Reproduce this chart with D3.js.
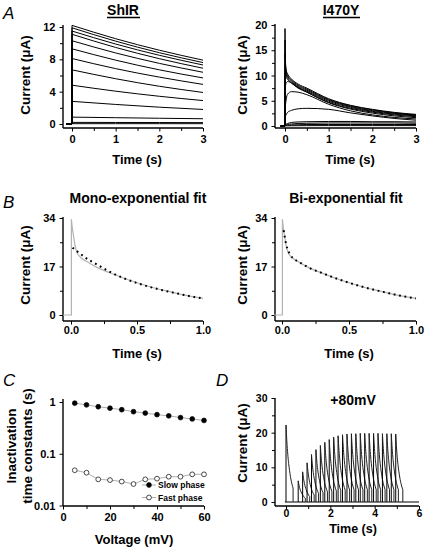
<!DOCTYPE html>
<html><head><meta charset="utf-8">
<script src="https://cdn.jsdelivr.net/npm/d3@7"></script>
<style>body{margin:0;background:#fff}</style>
</head><body><svg id="c" width="426" height="547"></svg>
<script>
// ---------- DATA ----------
// Panel A left: ShIR current traces (µA) sampled at these times (s)
const shirTimes = [0, 1, 2, 3];
const shirTraces = [
  [12.2, 10.55, 9.13, 7.9],
  [11.9, 10.25, 8.82, 7.6],
  [11.5, 9.89, 8.5, 7.3],
  [11.1, 9.47, 8.08, 6.9],
  [10.3, 8.79, 7.5, 6.4],
  [9.3, 7.9, 6.7, 5.7],
  [8.1, 6.85, 5.8, 4.9],
  [6.7, 5.6, 4.67, 3.9],
  [4.8, 4.06, 3.43, 2.9],
  [2.8, 2.42, 2.08, 1.8],
  [0.85, 0.78, 0.71, 0.65],
  [0.2, 0.19, 0.18, 0.17],
  [0.04, 0.04, 0.04, 0.04]
];
// Panel A right: I470Y traces
const i470yTimes = [0, 0.01, 0.03, 0.06, 0.15, 0.3, 0.5, 1, 1.5, 2, 2.5, 3];
const i470yTraces = [
  [19.3, 13.0, 11.0, 10.3, 9.3, 8.3, 7.5, 5.4, 4.1, 3.3, 2.7, 2.3],
  [17.0, 12.4, 10.7, 10.0, 9.1, 8.1, 7.3, 5.25, 4.0, 3.2, 2.6, 2.2],
  [14.5, 11.8, 10.4, 9.8, 8.9, 7.9, 7.1, 5.1, 3.85, 3.05, 2.5, 2.1],
  [12.0, 11.0, 10.0, 9.5, 8.7, 7.7, 6.9, 4.9, 3.7, 2.9, 2.35, 2.0],
  [10.5, 10.2, 9.6, 9.2, 8.5, 7.5, 6.7, 4.7, 3.5, 2.75, 2.2, 1.85],
  [5.0, 7.8, 8.6, 8.8, 8.5, 7.6, 6.7, 4.6, 3.35, 2.55, 2.0, 1.65],
  [2.5, 4.0, 5.4, 6.3, 6.8, 6.7, 6.2, 4.3, 3.0, 2.2, 1.7, 1.4],
  [1.5, 1.9, 2.3, 2.7, 3.1, 3.4, 3.5, 3.3, 2.6, 2.0, 1.5, 1.15],
  [0.2, 0.3, 0.4, 0.5, 0.7, 0.8, 0.85, 0.9, 0.9, 0.85, 0.85, 0.8],
  [0.1, 0.15, 0.2, 0.3, 0.4, 0.5, 0.55, 0.6, 0.6, 0.6, 0.6, 0.55],
  [0.05, 0.08, 0.1, 0.15, 0.2, 0.25, 0.3, 0.3, 0.3, 0.3, 0.3, 0.3],
  [0.02, 0.02, 0.03, 0.04, 0.05, 0.06, 0.07, 0.08, 0.08, 0.08, 0.08, 0.08]
];
// Panel B: recorded trace and fits
const bRecTimes = [0.003, 0.01, 0.02, 0.03, 0.045, 0.06, 0.08, 0.11, 0.15, 0.2, 0.3, 0.4, 0.5, 0.6, 0.7, 0.8, 0.9, 1.0];
const bRecValues = [33.5, 30.5, 27.5, 24.5, 22.0, 20.8, 19.9, 19.0, 17.9, 16.6, 14.7, 12.9, 11.3, 9.9, 8.7, 7.6, 6.6, 5.8];
const monoTimes = [0.012, 0.05, 0.1, 0.2, 0.3, 0.4, 0.5, 0.6, 0.7, 0.8, 0.9, 1.0];
const monoValues = [23.6, 22.2, 20.4, 17.6, 15.0, 12.9, 11.2, 9.8, 8.6, 7.6, 6.6, 5.8];
const biTimes = [0.012, 0.02, 0.03, 0.04, 0.06, 0.08, 0.11, 0.15, 0.2, 0.3, 0.4, 0.5, 0.6, 0.7, 0.8, 0.9, 1.0];
const biValues = [29.7, 27.5, 25.0, 23.3, 21.2, 20.0, 19.0, 17.9, 16.6, 14.7, 12.9, 11.3, 9.9, 8.7, 7.6, 6.6, 5.8];
// Panel C: inactivation time constants
const cVoltage = [5, 10, 15, 20, 25, 30, 35, 40, 45, 50, 55, 60];
const cSlow = [0.95, 0.88, 0.81, 0.76, 0.71, 0.65, 0.61, 0.57, 0.54, 0.50, 0.47, 0.44];
const cFast = [0.048, 0.043, 0.032, 0.031, 0.029, 0.026, 0.032, 0.033, 0.036, 0.036, 0.040, 0.040];
const cSeriesNames = ["Slow phase", "Fast phase"];
// Panel D: +80 mV pulse train
const dFirstTime = 0, dFirstPeak = 22.2;
const dTrainTimes = [0.55, 0.75, 0.95, 1.15, 1.35, 1.55, 1.75, 1.95, 2.15, 2.35, 2.55, 2.75, 2.95, 3.15, 3.35, 3.55, 3.75, 3.95, 4.15, 4.35, 4.55, 4.75, 4.95];
const dTrainPeaks = [6.1, 8.7, 11.3, 13.7, 15.1, 16.3, 17.2, 18.0, 18.7, 19.1, 19.4, 19.6, 19.7, 19.7, 19.8, 19.8, 19.8, 19.8, 19.8, 19.7, 19.7, 19.7, 19.6];
const dDecayDt = [0, 0.04, 0.08, 0.12, 0.16, 0.2, 0.24, 0.28, 0.32];
const dDecayFrac = [1, 0.78, 0.62, 0.5, 0.41, 0.33, 0.27, 0.22, 0.18];
// Tick labels
const aLeftYTicks = [0, 4, 8, 12], aRightYTicks = [0, 5, 10, 15, 20], aXTicks = [0, 1, 2, 3];
const bYTicks = [0, 17, 34], bXTicks = [0, 0.5, 1.0];
const cYTicks = [0.01, 0.1, 1], cXTicks = [0, 20, 40, 60];
const dYTicks = [0, 10, 20, 30], dXTicks = [0, 2, 4, 6];

// ---------- DRAWING ----------
const FONT = '"Liberation Sans", Arial, Helvetica, sans-serif';
const svg = d3.select("#c");

function axes(o) {
  const g = svg.append("g");
  const bx = g.append("g").attr("transform", `translate(0,${o.axisY})`)
    .call(d3.axisBottom(o.x).tickValues(o.xMajor).tickFormat(o.xFmt).tickSize(o.xTick || 3.5).tickPadding(o.xPad));
  bx.select(".domain").remove();
  if (o.xMinor) {
    g.append("g").attr("transform", `translate(0,${o.axisY})`)
      .call(d3.axisBottom(o.x).tickValues(o.xMinor).tickFormat("").tickSize(3)).select(".domain").remove();
  }
  const by = g.append("g").attr("transform", `translate(${o.axisX},0)`)
    .call(d3.axisLeft(o.y).tickValues(o.yMajor).tickFormat(o.yFmt).tickSize(3.5).tickPadding(o.yPad));
  by.select(".domain").remove();
  if (o.yMinor) {
    g.append("g").attr("transform", `translate(${o.axisX},0)`)
      .call(d3.axisLeft(o.y).tickValues(o.yMinor).tickFormat("").tickSize(3)).select(".domain").remove();
  }
  g.append("line").attr("x1", o.axisX).attr("x2", o.xEnd).attr("y1", o.axisY).attr("y2", o.axisY).attr("class", "ax");
  g.append("line").attr("x1", o.axisX).attr("x2", o.axisX).attr("y1", o.yTop).attr("y2", o.axisY).attr("class", "ax");
  g.selectAll("line").attr("stroke", "#000").attr("stroke-width", 1);
  g.selectAll("line.ax").attr("stroke-width", 1.4);
  g.selectAll("g").attr("font-family", FONT).attr("font-size", o.fs || 11).attr("font-weight", "bold");
  g.selectAll(".tick text").attr("fill", "#000");
}

function text(x, y, s, opt = {}) {
  const t = svg.append("text").attr("x", x).attr("y", y).text(s)
    .attr("font-family", FONT).attr("font-size", opt.size || 13)
    .attr("font-weight", opt.weight || "bold").attr("font-style", opt.style || "normal")
    .attr("text-anchor", opt.anchor || "middle").attr("fill", "#000");
  if (opt.rotate) t.attr("transform", `rotate(-90,${x},${y})`).attr("dy", "0.35em");
  return t;
}

function trace(xs, ys, times, vals, preT, color, width, dash) {
  const lin = d3.line().x(d => xs(d[0])).y(d => ys(d[1]));
  const mono = d3.line().curve(d3.curveMonotoneX).x(d => xs(d[0])).y(d => ys(d[1]));
  if (preT !== null) {
    svg.append("path").datum([[preT, 0], [times[0], 0], [times[0], vals[0]]]).attr("d", lin)
      .attr("fill", "none").attr("stroke", color).attr("stroke-width", width);
  }
  const p = svg.append("path").datum(times.map((t, i) => [t, vals[i]])).attr("d", mono)
    .attr("fill", "none").attr("stroke", color).attr("stroke-width", width);
  if (dash) p.attr("stroke-dasharray", dash);
}

const fmt0 = d3.format("d"), fmt1 = d3.format(".1f");

// ----- Panel A left -----
{
  const x = d3.scaleLinear().domain([0, 3]).range([72, 203]);
  const y = d3.scaleLinear().domain([0, 12]).range([124, 27]);
  axes({x, y, axisX: 63, axisY: 128, xEnd: 203, yTop: 25, xMajor: aXTicks, xMinor: [0.5, 1.5, 2.5],
    yMajor: aLeftYTicks, yMinor: [2, 6, 10], xFmt: fmt0, yFmt: fmt0, xPad: 4, yPad: 4});
  shirTraces.forEach(v => trace(x, y, shirTimes, v, -0.13, "#000", 1));
  text(123, 15, "ShIR", {size: 14});
  svg.append("line").attr("x1", 107).attr("x2", 140).attr("y1", 17.5).attr("y2", 17.5).attr("stroke", "#000").attr("stroke-width", 1.3);
  text(137, 164, "Time (s)");
  text(25, 75, "Current (μA)", {rotate: true, size: 13.5});
  text(3, 19, "A", {size: 17, weight: "normal", style: "italic", anchor: "start"});
}
// ----- Panel A right -----
{
  const x = d3.scaleLinear().domain([0, 3]).range([285, 416]);
  const y = d3.scaleLinear().domain([0, 20]).range([126, 25]);
  axes({x, y, axisX: 275, axisY: 128, xEnd: 416, yTop: 24, xMajor: aXTicks, xMinor: [0.5, 1.5, 2.5],
    yMajor: aRightYTicks, yMinor: [2.5, 7.5, 12.5, 17.5], xFmt: fmt0, yFmt: fmt0, xPad: 4, yPad: 4});
  i470yTraces.forEach(v => trace(x, y, i470yTimes, v, -0.1, "#000", 1));
  text(341, 15, "I470Y", {size: 14});
  svg.append("line").attr("x1", 323).attr("x2", 360).attr("y1", 17.5).attr("y2", 17.5).attr("stroke", "#000").attr("stroke-width", 1.3);
  text(350, 164, "Time (s)");
  text(242, 75, "Current (μA)", {rotate: true, size: 13.5});
}
// ----- Panel B -----
[[63, 71, 203, "Mono-exponential fit", 138, monoTimes, monoValues, 25], [275, 282, 416, "Bi-exponential fit", 346, biTimes, biValues, 242]]
.forEach(([ax, x0, x1, title, tx, ft, fv, lx], i) => {
  const x = d3.scaleLinear().domain([0, 1]).range([x0, x1]);
  const y = d3.scaleLinear().domain([0, 34]).range([315, 218]);
  axes({x, y, axisX: ax, axisY: 321, xEnd: x1, yTop: 217, xMajor: bXTicks, xMinor: [0.25, 0.75],
    yMajor: bYTicks, yMinor: [8.5, 25.5], xFmt: fmt1, yFmt: fmt0, xPad: 2, yPad: 4});
  trace(x, y, bRecTimes, bRecValues, -0.06, "#b3b3b3", 1.2);
  trace(x, y, ft, fv, null, "#000", 2, "1.8,3.7");
  text(tx, 203, title, {size: 14});
  text((x0 + x1) / 2, 358, "Time (s)");
  text(lx, 265, "Current (μA)", {rotate: true, size: 13.5});
  if (i === 0) text(3, 208, "B", {size: 17, weight: "normal", style: "italic", anchor: "start"});
});
// ----- Panel C -----
{
  const x = d3.scaleLinear().domain([0, 60]).range([63, 204]);
  const y = d3.scaleLog().domain([0.01, 1]).range([505.5, 402]);
  axes({x, y, axisX: 63, axisY: 506, xEnd: 204, yTop: 399, xMajor: cXTicks, xMinor: [10, 30, 50],
    yMajor: cYTicks, yMinor: null, xFmt: fmt0, yFmt: d => String(d), xPad: 4, yPad: 4});
  const ln = d3.line().x((d, i) => x(cVoltage[i])).y(d => y(d));
  [[cSlow, "#000"], [cFast, "#fff"]].forEach(([vals, fill]) => {
    svg.append("path").datum(vals).attr("d", ln).attr("fill", "none").attr("stroke", "#999").attr("stroke-width", 0.8);
    svg.selectAll(null).data(vals).enter().append("circle")
      .attr("cx", (d, i) => x(cVoltage[i])).attr("cy", d => y(d)).attr("r", 2.4)
      .attr("fill", fill).attr("stroke", "#000").attr("stroke-width", 0.7);
  });
  [["#000", 485], ["#fff", 497.5]].forEach(([fill, ly], i) => {
    svg.append("line").attr("x1", 142).attr("x2", 156).attr("y1", ly).attr("y2", ly).attr("stroke", "#999").attr("stroke-width", 0.8);
    svg.append("circle").attr("cx", 149).attr("cy", ly).attr("r", 2.4).attr("fill", fill).attr("stroke", "#000").attr("stroke-width", 0.7);
    text(158, ly + 3, cSeriesNames[i], {size: 8.5, anchor: "start"});
  });
  text(134, 544, "Voltage (mV)");
  text(11, 446, "Inactivation", {rotate: true, size: 13.5});
  text(27, 446, "time constants (s)", {rotate: true, size: 13.5});
  text(3, 386, "C", {size: 17, weight: "normal", style: "italic", anchor: "start"});
}
// ----- Panel D -----
{
  const x = d3.scaleLinear().domain([0, 6]).range([286, 419]);
  const y = d3.scaleLinear().domain([0, 30]).range([502, 398]);
  axes({x, y, axisX: 275, axisY: 506, xEnd: 419, yTop: 398, xMajor: dXTicks, xMinor: [1, 3, 5],
    yMajor: dYTicks, yMinor: [5, 15, 25], xFmt: fmt0, yFmt: fmt0, xPad: 0.5, yPad: 4, xTick: 3, fs: 10.5});
  const lin = d3.line().x(d => x(d[0])).y(d => y(d[1]));
  svg.append("path").datum([[-0.05, 0], [6, 0]]).attr("d", lin).attr("fill", "none").attr("stroke", "#000").attr("stroke-width", 1);
  const pulses = [[dFirstTime, dFirstPeak]].concat(dTrainTimes.map((t, i) => [t, dTrainPeaks[i]]));
  const mono = d3.line().curve(d3.curveMonotoneX).x(d => x(d[0])).y(d => y(d[1]));
  pulses.forEach(([t0, pk]) => {
    svg.append("path").datum([[t0, 0], [t0, pk]]).attr("d", lin).attr("stroke", "#000").attr("stroke-width", 1);
    const pts = dDecayDt.map((dt, i) => [t0 + dt, pk * dDecayFrac[i]]);
    svg.append("path").datum(pts).attr("d", mono).attr("fill", "none").attr("stroke", "#222").attr("stroke-width", 1);
    const last = pts[pts.length - 1];
    svg.append("path").datum([last, [last[0], 0]]).attr("d", lin).attr("stroke", "#222").attr("stroke-width", 1);
  });
  text(353, 405, "+80mV", {size: 14});
  text(353, 533, "Time (s)", {size: 12.5});
  text(242, 443, "Current (μA)", {rotate: true, size: 13.5});
  text(216, 386, "D", {size: 17, weight: "normal", style: "italic", anchor: "start"});
}
</script>
</body></html>
